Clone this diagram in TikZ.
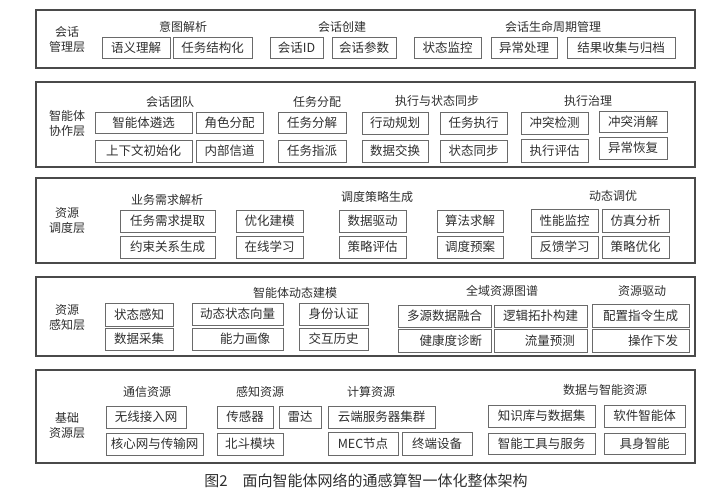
\documentclass[tikz,border=0pt]{standalone}
\usepackage{fontspec}
\setmainfont{Noto Sans CJK SC}
\usepackage{tikz}
\definecolor{framegray}{HTML}{4A4A4A}
\definecolor{boxgray}{HTML}{6A6A6A}
\definecolor{textgray}{HTML}{2E2E2E}
\tikzstyle{layer} = [draw=framegray, line width=1.1pt]
\tikzstyle{item} = [draw=boxgray, line width=0.9pt]
\tikzstyle{layerlabel} = [align=center, font=\fontsize{12}{15}\selectfont]
\tikzstyle{grouptitle} = [font=\fontsize{12}{14}\selectfont]

\begin{document}
\begin{tikzpicture}[x=1pt, y=-1pt, every node/.style={text=textgray, font=\fontsize{12.5}{14}\selectfont}]
	\useasboundingbox (0,0) rectangle (720,500);
	% -------------- Session management layer --------------
	\draw[layer] (36,10) rectangle (695,68);
	\node[layerlabel] (lsession) at (67,39) {会话\\管理层};
	\node[grouptitle] (tintent) at (183,27) {意图解析};
	\draw[item] (102,37) rectangle node (semantic) {语义理解}   (170,58);
	\draw[item] (173,37) rectangle node (taskstruct) {任务结构化} (252,58);
	\node[grouptitle] (tcreate) at (342,27) {会话创建};
	\draw[item] (270,37) rectangle node (sessid) {会话ID}    (323,58);
	\draw[item] (332,37) rectangle node (sessparam) {会话参数}  (396,58);
	\node[grouptitle] (tlife) at (553,27) {会话生命周期管理};
	\draw[item] (414,37) rectangle node (statemon) {状态监控}   (481,58);
	\draw[item] (491,37) rectangle node (excproc) {异常处理}   (557,58);
	\draw[item] (567,37) rectangle node (resarch) {结果收集与归档} (675,58);
	% -------------- Agent collaboration layer --------------
	\draw[layer] (36,82) rectangle (695,167);
	\node[layerlabel] (lagent) at (67,123) {智能体\\协作层};
	\node[grouptitle] (tteam) at (170,102) {会话团队};
	\draw[item] (95,112)  rectangle node (agentsel) {智能体遴选}   (192,133);
	\draw[item] (196,112) rectangle node (roleassign) {角色分配}  (263,133);
	\draw[item] (95,140)  rectangle node (ctxinit) {上下文初始化}  (192,162);
	\draw[item] (196,140) rectangle node (innerch) {内部信道}    (263,162);
	\node[grouptitle] (tassign) at (317,102) {任务分配};
	\draw[item] (278,112) rectangle node (taskdec) {任务分解}    (346,133);
	\draw[item] (278,140) rectangle node (taskdisp) {任务指派}   (346,162);
	\node[grouptitle] (tsync) at (437,101) {执行与状态同步};
	\draw[item] (362,112) rectangle node (actplan) {行动规划}    (428,134);
	\draw[item] (440,112) rectangle node (taskexec) {任务执行}   (507,134);
	\draw[item] (362,140) rectangle node (dataxchg) {数据交换}   (428,162);
	\draw[item] (440,140) rectangle node (statesync) {状态同步}  (507,162);
	\node[grouptitle] (tgov) at (588,101) {执行治理};
	\draw[item] (521,112) rectangle node (confdet) {冲突检测}    (588,134);
	\draw[item] (599,111) rectangle node (confres) {冲突消解}    (667,132);
	\draw[item] (521,139) rectangle node (execeval) {执行评估}   (588,162);
	\draw[item] (599,137) rectangle node (excrec) {异常恢复}     (667,159);
	% -------------- Resource scheduling layer --------------
	\draw[layer] (36,178) rectangle (695,263);
	\node[layerlabel] (lsched) at (67,221) {资源\\调度层};
	\node[grouptitle] (tdemand) at (167,200) {业务需求解析};
	\draw[item] (120,210) rectangle node (demandext) {任务需求提取} (215,232);
	\draw[item] (120,236) rectangle node (constgen) {约束关系生成}  (215,258);
	\draw[item] (236,210) rectangle node (optmodel) {优化建模}    (303,232);
	\draw[item] (236,236) rectangle node (onlinelearn) {在线学习} (303,258);
	\node[grouptitle] (tstrategy) at (377,197) {调度策略生成};
	\draw[item] (339,210) rectangle node (datadrive) {数据驱动}   (406,232);
	\draw[item] (339,236) rectangle node (strateval) {策略评估}   (406,258);
	\draw[item] (437,210) rectangle node (algsolve) {算法求解}    (503,232);
	\draw[item] (437,236) rectangle node (schedplan) {调度预案}   (503,258);
	\node[grouptitle] (ttune) at (613,196) {动态调优};
	\draw[item] (531,209) rectangle node (perfmon) {性能监控}     (598,232);
	\draw[item] (602,209) rectangle node (simana) {仿真分析}      (669,232);
	\draw[item] (531,236) rectangle node (feedlearn) {反馈学习}   (598,258);
	\draw[item] (602,236) rectangle node (stratopt) {策略优化}    (669,258);
	% -------------- Resource sensing layer --------------
	\draw[layer] (36,277) rectangle (695,356);
	\node[layerlabel] (lsense) at (67,318) {资源\\感知层};
	\draw[item] (105,303) rectangle node (statesense) {状态感知}  (173,326);
	\draw[item] (105,328) rectangle node (datacol) {数据采集}     (173,350);
	\node[grouptitle] (tmodel) at (295,293) {智能体动态建模};
	\draw[item] (192,303) rectangle node (statevec) {动态状态向量} (283,325);
	\draw[item] (192,328) rectangle node (capprof) {\hspace{1.2em}能力画像} (283,350);
	\draw[item] (299,303) rectangle node (identauth) {身份认证}   (368,325);
	\draw[item] (299,328) rectangle node (interhist) {交互历史}   (368,350);
	\node[grouptitle] (tgraph) at (502,291) {全域资源图谱};
	\draw[item] (398,305) rectangle node (multifuse) {多源数据融合} (491,327);
	\draw[item] (398,329) rectangle node (healthdiag) {\hspace{1em}健康度诊断} (491,352);
	\draw[item] (494,305) rectangle node (topobuild) {逻辑拓扑构建} (587,327);
	\draw[item] (494,329) rectangle node (flowpred) {\hspace{1.5em}流量预测} (587,352);
	\node[grouptitle] (tdrive) at (642,291) {资源驱动};
	\draw[item] (592,304) rectangle node (cfggen) {配置指令生成}  (689,327);
	\draw[item] (592,329) rectangle node (opissue) {\hspace{2em}操作下发} (689,352);
	% -------------- Infrastructure resource layer --------------
	\draw[layer] (36,370) rectangle (695,463);
	\node[layerlabel] (lbase) at (67,425) {基础\\资源层};
	\node[grouptitle] (tcomm) at (147,392) {通信资源};
	\draw[item] (106,406) rectangle node (wireless) {无线接入网}  (186,428);
	\draw[item] (106,433) rectangle node (corenet) {核心网与传输网} (203,455);
	\node[grouptitle] (tperc) at (260,392) {感知资源};
	\draw[item] (217,406) rectangle node (sensor) {传感器}        (273,428);
	\draw[item] (279,406) rectangle node (radar) {雷达}           (321,428);
	\draw[item] (217,433) rectangle node (beidou) {北斗模块}      (283,455);
	\node[grouptitle] (tcomp) at (371,392) {计算资源};
	\draw[item] (328,406) rectangle node (cloud) {云端服务器集群}  (435,428);
	\draw[item] (328,432) rectangle node (mec) {MEC节点}          (398,455);
	\draw[item] (402,432) rectangle node (terminal) {终端设备}    (472,455);
	\node[grouptitle] (tdata) at (605,390) {数据与智能资源};
	\draw[item] (488,405) rectangle node (kbase) {知识库与数据集}  (595,427);
	\draw[item] (488,433) rectangle node (tools) {智能工具与服务}  (595,454);
	\draw[item] (604,405) rectangle node (swagent) {软件智能体}    (685,427);
	\draw[item] (604,433) rectangle node (embodied) {具身智能}     (685,454);
	% -------------- Caption --------------
	\node[font=\fontsize{15}{17}\selectfont] (caption) at (366,481) {图2\hspace{1em}面向智能体网络的通感算智一体化整体架构};
\end{tikzpicture}
\end{document}
